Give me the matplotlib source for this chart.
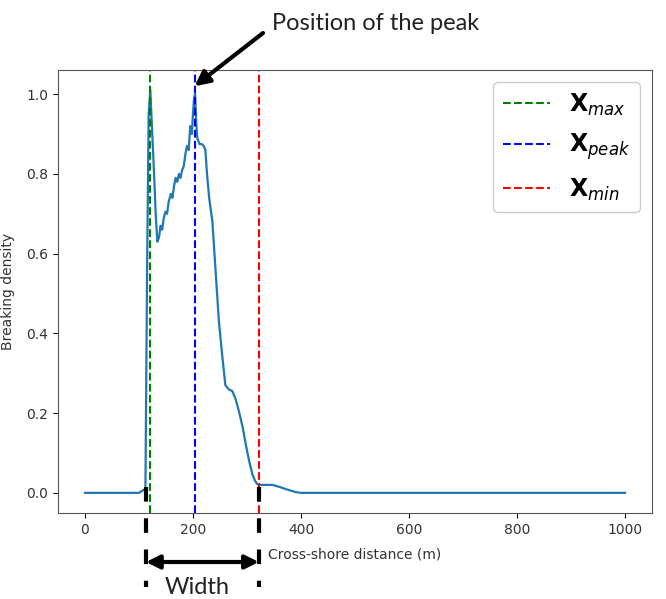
import matplotlib
matplotlib.use('Agg')
import matplotlib.pyplot as plt
from matplotlib.transforms import blended_transform_factory

# cross-shore profile of breaking density
x_dist = [0, 50, 100, 112, 115, 118, 121, 124, 128, 131, 134,
          137, 140, 143, 146, 149, 152, 155, 159, 162, 165, 168,
          171, 174, 177, 180, 183, 186, 189, 192, 195, 198, 200,
          202, 204, 206, 208, 212, 216, 220, 223, 226, 230, 236,
          242, 248, 254, 260, 266, 273, 279, 285, 292, 298, 304,
          310, 315, 319, 324, 335, 347, 360, 375, 390, 400, 450,
          500, 600, 700, 800, 900, 1000]
density = [0.0, 0.0, 0.0, 0.01, 0.55, 0.95, 1.01, 0.92, 0.8, 0.7, 0.63,
           0.64, 0.67, 0.66, 0.69, 0.705, 0.7, 0.73, 0.75, 0.74, 0.77, 0.79,
           0.78, 0.8, 0.79, 0.81, 0.82, 0.85, 0.87, 0.86, 0.92, 0.9, 0.95,
           0.99, 1.0, 0.93, 0.89, 0.875, 0.875, 0.87, 0.86, 0.8, 0.74, 0.68,
           0.555, 0.43, 0.347, 0.27, 0.26, 0.255, 0.235, 0.205, 0.165, 0.12, 0.08,
           0.047, 0.03, 0.022, 0.02, 0.02, 0.02, 0.015, 0.008, 0.002, 0.0, 0.0,
           0.0, 0.0, 0.0, 0.0, 0.0, 0.0]

x_max = 121
x_peak = 203
x_min = 322
width_start = 113
width_end = 322

fig = plt.figure(figsize=(6.66, 5.99), dpi=100)
ax = fig.add_axes([0.087, 0.1436, 0.892, 0.7394])

ax.plot(x_dist, density, color='tab:blue', lw=1.6)
ax.axvline(x_max, color='green', ls='--', lw=1.5, label=r'$\mathbf{X}_{max}$')
ax.axvline(x_peak, color='blue', ls='--', lw=1.5, label=r'$\mathbf{X}_{peak}$')
ax.axvline(x_min, color='red', ls='--', lw=1.5, label=r'$\mathbf{X}_{min}$')

ax.set_xlabel('Cross-shore distance (m)', fontsize=10, color='#333333',
              labelpad=8)
ax.set_ylabel('Breaking density', fontsize=10, color='#333333')
ax.yaxis.set_label_coords(-0.072, 0.5)
ax.tick_params(labelsize=10, labelcolor='#333333')
for s in ax.spines.values():
    s.set_color('#555555')

ax.legend(loc='upper right', fontsize=17, framealpha=1, labelspacing=0.6,
          bbox_to_anchor=(0.999, 1.0))

# annotation outside the axes
fig.text(272, 575, 'Position of the peak', transform=None,
         fontsize=17, family='Lato', color='#222222', va='center')
ax.annotate('', xy=(x_peak, 1.02), xycoords='data',
            xytext=(263, 566), textcoords='figure pixels',
            annotation_clip=False,
            arrowprops=dict(arrowstyle='-|>', color='black', lw=3,
                            mutation_scale=22, shrinkA=0, shrinkB=0))

trans = blended_transform_factory(ax.transData, fig.transFigure)
for xv in (width_start, width_end):
    ax.plot([xv, xv], [1 - 487 / 599, 1 - 587 / 599], transform=trans,
            color='black', lw=3, ls=(0, (3.5, 4)), clip_on=False)

ax.annotate('', xy=(width_start, 1 - 562 / 599), xycoords=trans,
            xytext=(width_end, 1 - 562 / 599), textcoords=trans,
            annotation_clip=False,
            arrowprops=dict(arrowstyle='<|-|>', color='black', lw=3,
                            mutation_scale=20, shrinkA=0, shrinkB=0))
ax.text((width_start + width_end) / 2 - 10, 1 - 587 / 599, 'Width',
        transform=trans, ha='center', va='center', fontsize=17,
        family='Lato', color='#222222')

fig.savefig('out.png', dpi=100)
